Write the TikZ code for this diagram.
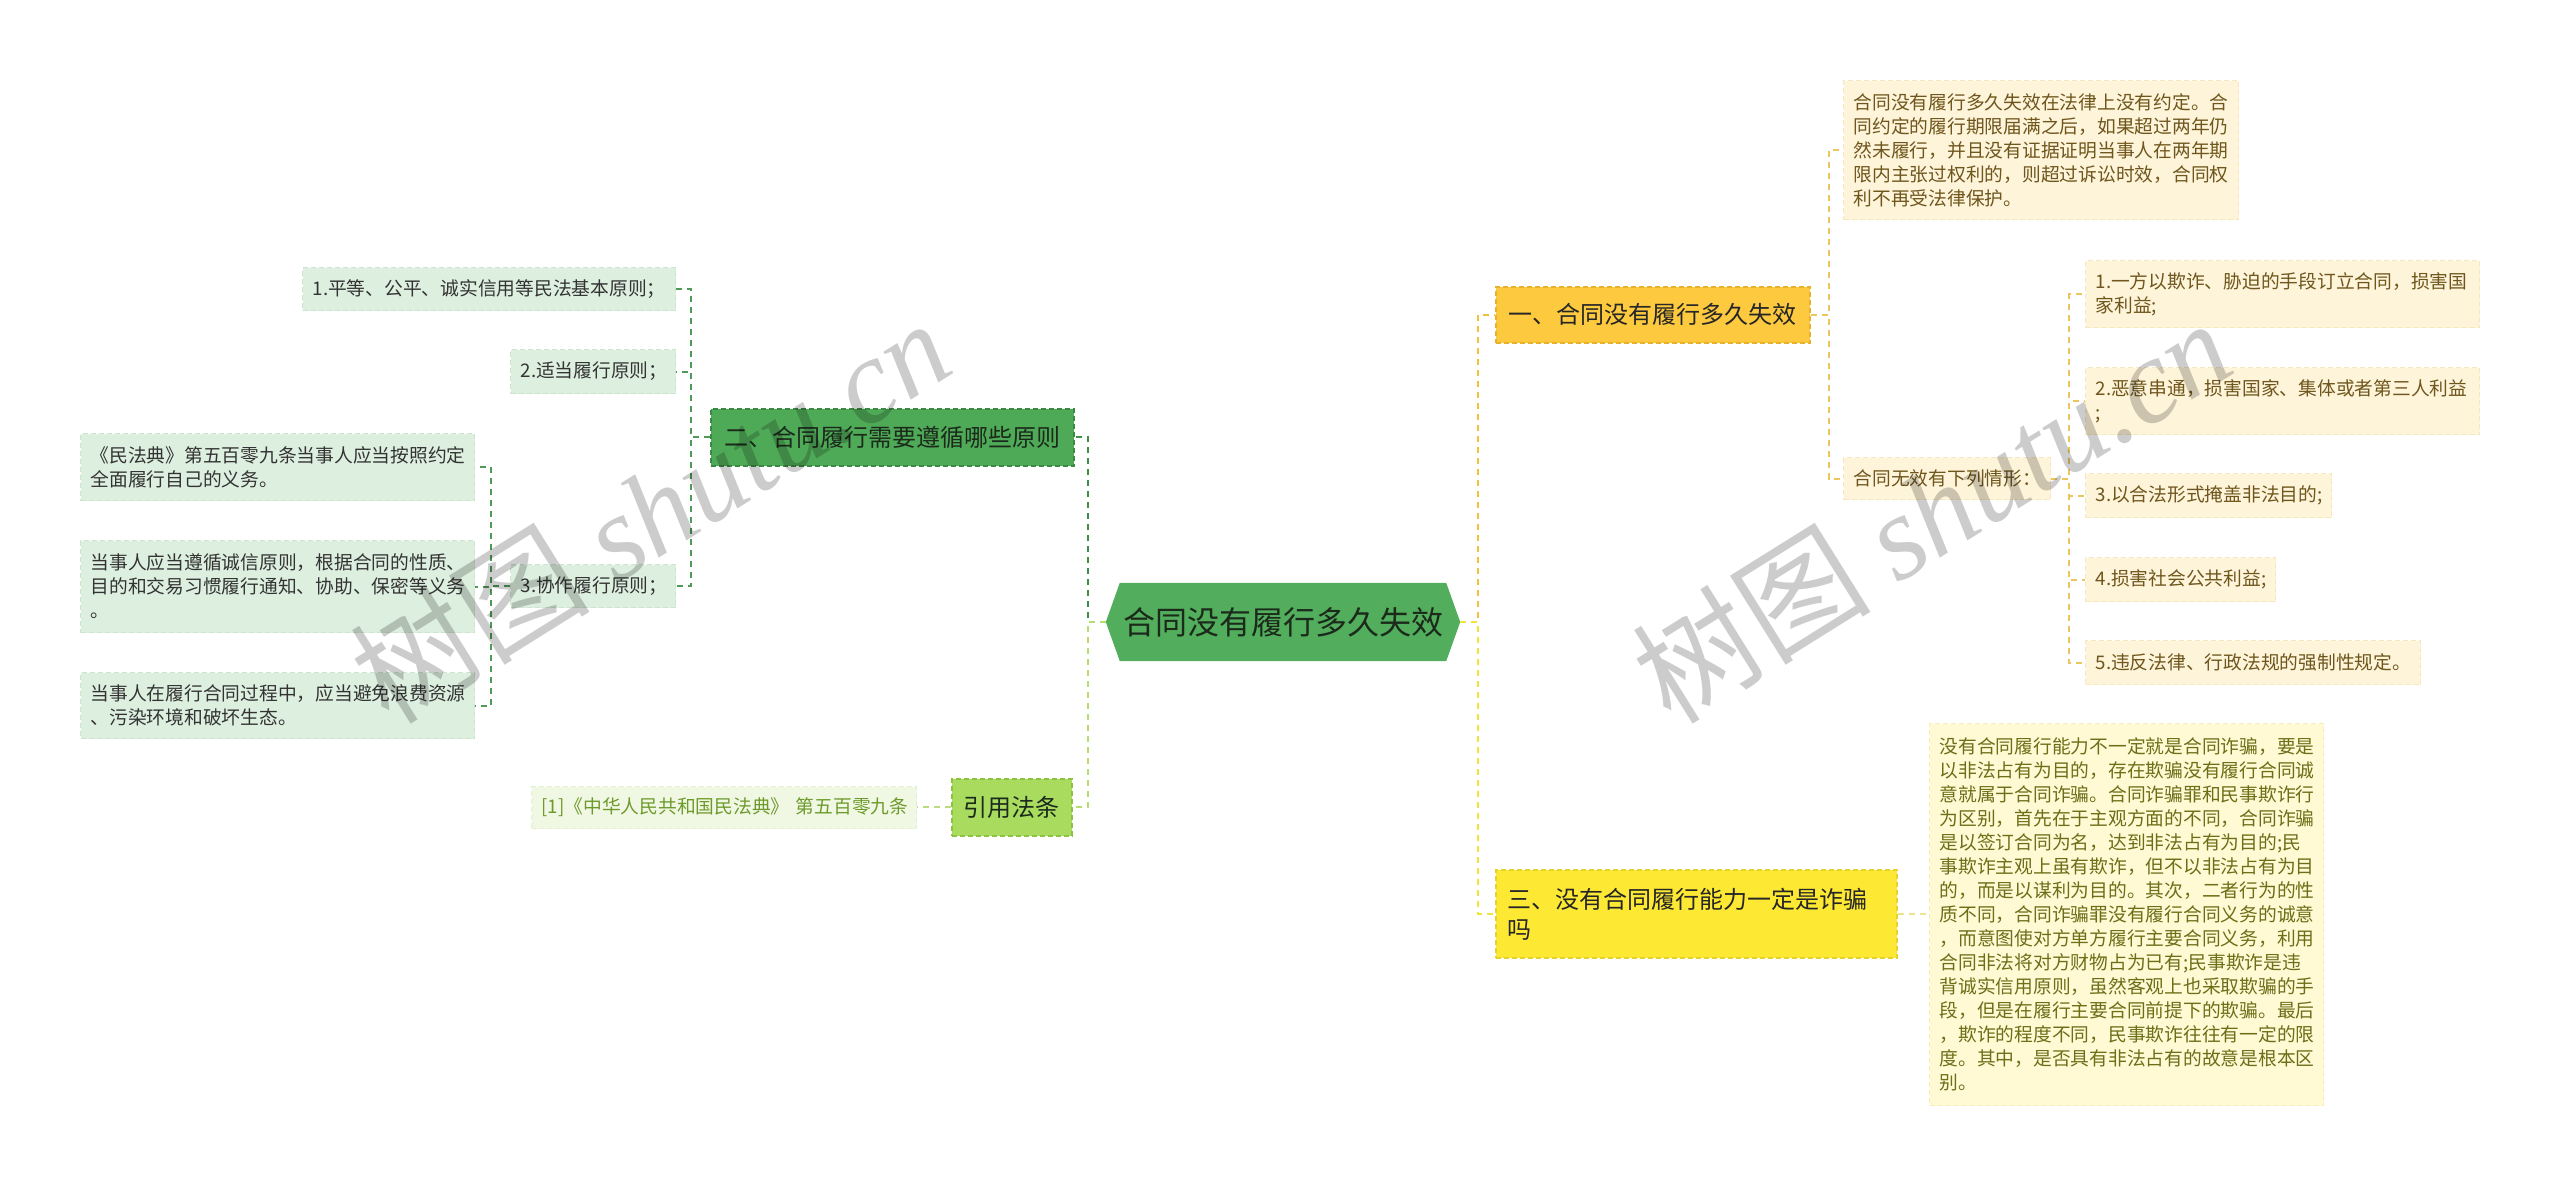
\documentclass[tikz,border=0pt]{standalone}
\usepackage{fontspec}
\setmainfont{Noto Sans CJK SC}
\newfontfamily\wmserif{Liberation Serif}
\usetikzlibrary{calc,backgrounds}
\newcommand{\fsnote}{\fontsize{18.75pt}{24pt}\selectfont}
\newcommand{\fsbig}{\fontsize{24pt}{30pt}\selectfont}
\newcommand{\fscenter}{\fontsize{32pt}{38pt}\selectfont}
\definecolor{cgreen}{HTML}{52AE5C}
\definecolor{ctext}{HTML}{1C2A1C}
\definecolor{btext}{HTML}{262626}
\definecolor{b2fill}{HTML}{4FAA58}
\definecolor{b2line}{HTML}{3A8A43}
\definecolor{limefill}{HTML}{A8DB5E}
\definecolor{limeline}{HTML}{8CC43F}
\definecolor{orfill}{HTML}{FDC93E}
\definecolor{orline}{HTML}{E9B12A}
\definecolor{yefill}{HTML}{FDE934}
\definecolor{yeline}{HTML}{E6D22A}
\definecolor{creamfill}{HTML}{FEF4DA}
\definecolor{creamline}{HTML}{F6E7BE}
\definecolor{creamtext}{HTML}{6E561C}
\definecolor{lyfill}{HTML}{FFFAD4}
\definecolor{lyline}{HTML}{F4EDB8}
\definecolor{lytext}{HTML}{6E6E18}
\definecolor{lgfill}{HTML}{DDEFDF}
\definecolor{lgline}{HTML}{CDE5D0}
\definecolor{lgtext}{HTML}{333333}
\definecolor{reffill}{HTML}{F0F8E4}
\definecolor{refline}{HTML}{E2F0CF}
\definecolor{reftext}{HTML}{6E9A2C}
\definecolor{conor}{HTML}{F2C13C}
\definecolor{conye}{HTML}{F2E33C}
\definecolor{contan}{HTML}{EBC65E}
\definecolor{conly}{HTML}{EFE48A}
\definecolor{condg}{HTML}{3E8E47}
\definecolor{conlg}{HTML}{B6DE6C}
\definecolor{congr}{HTML}{4E9A56}
\definecolor{conref}{HTML}{BADD82}
\tikzset{
  conn/.style={line width=2pt, dash pattern=on 6pt off 5pt},
  boxbase/.style={anchor=north west, inner ysep=0pt, inner xsep=10pt, align=left,
    line width=1.2pt, dash pattern=on 5pt off 3pt},
  cream/.style={boxbase, fill=creamfill, draw=creamline, text=creamtext, font=\fsnote},
  lyel/.style={boxbase, fill=lyfill, draw=lyline, text=lytext, font=\fsnote},
  lgreen/.style={boxbase, fill=lgfill, draw=lgline, text=lgtext, font=\fsnote},
  refbox/.style={boxbase, fill=reffill, draw=refline, text=reftext, font=\fsnote},
  bigbox/.style={anchor=north west, inner sep=0pt, align=center, font=\fsbig,
    line width=1.5pt, dash pattern=on 5pt off 3pt},
  wm/.style={text=black, opacity=0.2, font=\fontsize{120pt}{130pt}\selectfont, inner sep=0pt}
}
\begin{document}
\begin{tikzpicture}[x=1pt,y=-1pt]
\useasboundingbox (0,0) rectangle (2560,1185);
% central topic
\node[minimum width=354pt, minimum height=78pt, inner sep=0pt, font=\fscenter, text=ctext] (c) at (1283,622) {合同没有履行多久失效};
\begin{pgfonlayer}{background}
\fill[cgreen] ($(c.north west)+(14,0)$) -- ($(c.north east)+(-14,0)$) -- (c.east) -- ($(c.south east)+(-14,0)$) -- ($(c.south west)+(14,0)$) -- (c.west) -- cycle;
\end{pgfonlayer}

% right branch 1
\node[bigbox, fill=orfill, draw=orline, text=btext, minimum width=314pt, minimum height=56pt] (b1) at (1495,286) {一、合同没有履行多久失效};
\node[cream, text width=375pt, minimum height=139pt] (n1) at (1843,80) {合同没有履行多久失效在法律上没有约定。合\\同约定的履行期限届满之后，如果超过两年仍\\然未履行，并且没有证据证明当事人在两年期\\限内主张过权利的，则超过诉讼时效，合同权\\利不再受法律保护。};
\node[cream, text width=187pt, minimum height=42pt] (n2) at (1843,457) {合同无效有下列情形：};
\node[cream, text width=374pt, minimum height=67pt] (i1) at (2085,260) {1.一方以欺诈、胁迫的手段订立合同，损害国\\家利益;};
\node[cream, text width=374pt, minimum height=67pt] (i2) at (2085,367) {2.恶意串通，损害国家、集体或者第三人利益\\;};
\node[cream, text width=226pt, minimum height=44pt] (i3) at (2085,473) {3.以合法形式掩盖非法目的;};
\node[cream, text width=170pt, minimum height=44pt] (i4) at (2085,557) {4.损害社会公共利益;};
\node[cream, text width=315pt, minimum height=44pt] (i5) at (2085,640) {5.违反法律、行政法规的强制性规定。};

% right branch 3
\node[bigbox, align=left, inner xsep=12pt, fill=yefill, draw=yeline, text=btext, text width=377pt, minimum height=88pt] (b3) at (1495,869) {三、没有合同履行能力一定是诈骗\\吗};
\node[lyel, text width=374pt, minimum height=382pt] (n3) at (1929,723) {没有合同履行能力不一定就是合同诈骗，要是\\以非法占有为目的，存在欺骗没有履行合同诚\\意就属于合同诈骗。合同诈骗罪和民事欺诈行\\为区别，首先在于主观方面的不同，合同诈骗\\是以签订合同为名，达到非法占有为目的;民\\事欺诈主观上虽有欺诈，但不以非法占有为目\\的，而是以谋利为目的。其次，二者行为的性\\质不同，合同诈骗罪没有履行合同义务的诚意\\，而意图使对方单方履行主要合同义务，利用\\合同非法将对方财物占为已有;民事欺诈是违\\背诚实信用原则，虽然客观上也采取欺骗的手\\段，但是在履行主要合同前提下的欺骗。最后\\，欺诈的程度不同，民事欺诈往往有一定的限\\度。其中，是否具有非法占有的故意是根本区\\别。};

% left branch 2
\node[bigbox, fill=b2fill, draw=b2line, text=ctext, minimum width=363pt, minimum height=57pt] (b2) at (710,408) {二、合同履行需要遵循哪些原则};
\node[lgreen, text width=353pt, minimum height=43pt] (c1) at (302,267) {1.平等、公平、诚实信用等民法基本原则；};
\node[lgreen, text width=145pt, minimum height=44pt] (c2) at (510,349) {2.适当履行原则；};
\node[lgreen, text width=145pt, minimum height=43pt] (c3) at (510,564) {3.协作履行原则；};
\node[lgreen, text width=374pt, minimum height=67pt] (g1) at (80,433) {《民法典》第五百零九条当事人应当按照约定\\全面履行自己的义务。};
\node[lgreen, text width=374pt, minimum height=92pt] (g2) at (80,540) {当事人应当遵循诚信原则，根据合同的性质、\\目的和交易习惯履行通知、协助、保密等义务\\。};
\node[lgreen, text width=374pt, minimum height=66pt] (g3) at (80,672) {当事人在履行合同过程中，应当避免浪费资源\\、污染环境和破坏生态。};

% left branch: cited law
\node[bigbox, fill=limefill, draw=limeline, text=ctext, minimum width=120pt, minimum height=57pt] (r) at (951,778) {引用法条};
\node[refbox, text width=365pt, minimum height=42pt] (ref) at (531,786) {\mbox{[1]《中华人民共和国民法典》~第五百零九条}};

% connectors
\draw[conn, conor] (c.east) -- ++(18,0) |- (b1.west);
\draw[conn, conye] (c.east) -- ++(18,0) |- (b3.west);
\foreach \t in {n1,n2} \draw[conn, contan] (b1.east) -- ++(18,0) |- (\t.west);
\foreach \t in {i1,i2,i3,i4,i5} \draw[conn, contan] (n2.east) -- ++(18,0) |- (\t.west);
\draw[conn, conly] (b3.east) -- (b3.east -| n3.west);
\draw[conn, condg] (c.west) -- ++(-18,0) |- (b2.east);
\draw[conn, conlg] (c.west) -- ++(-18,0) |- (r.east);
\foreach \t in {c1,c2,c3} \draw[conn, congr] (b2.west) -- ++(-19,0) |- (\t.east);
\foreach \t in {g1,g2,g3} \draw[conn, congr] (c3.west) -- ++(-19,0) |- (\t.east);
\draw[conn, conref] (r.west) -- (r.west -| ref.east);

% watermarks
\node[wm, rotate=32] (wm1) at (650,510) {树图 {\wmserif\itshape shutu.cn}};
\node[wm, rotate=32] (wm2) at (1931,510) {树图 {\wmserif\itshape shutu.cn}};
\end{tikzpicture}
\end{document}
